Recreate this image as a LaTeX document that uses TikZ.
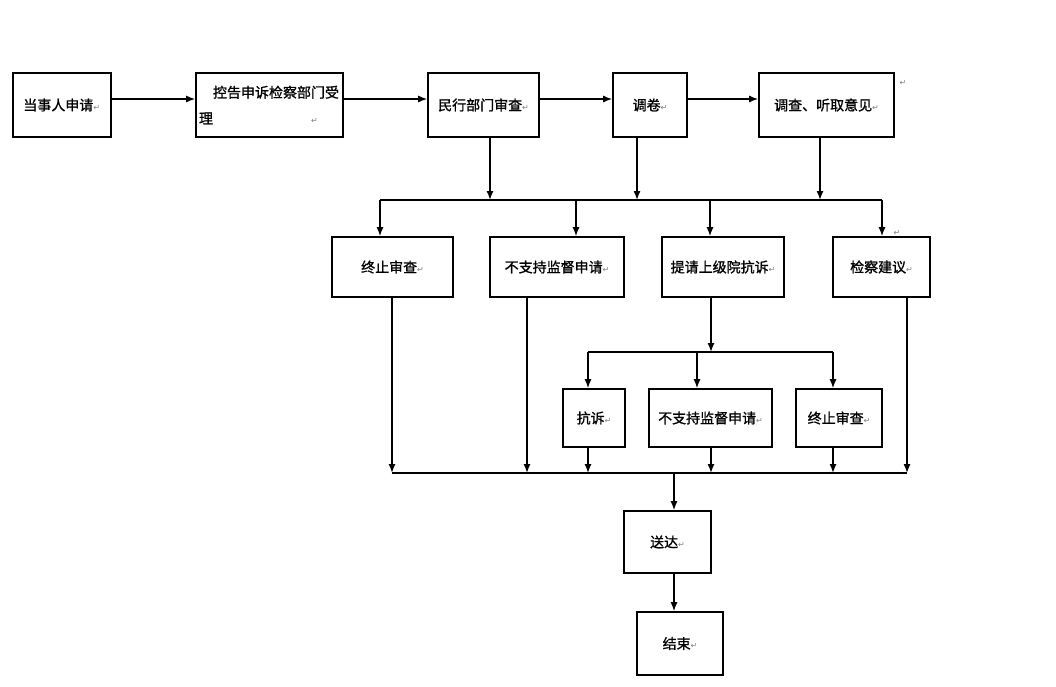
\documentclass[tikz,border=0pt]{standalone}
\usepackage{fontspec}
\setmainfont[FakeBold=1.2]{Noto Sans CJK SC}
\newfontfamily\markfont{DejaVu Sans}
\usepackage{xcolor}
\usepackage{tikz}
\usetikzlibrary{arrows.meta,arrows}
\newcommand{\retmark}{{\markfont\fontsize{8}{8}\selectfont\textcolor{gray}{↵}}}

\begin{document}
\begin{tikzpicture}[x=1pt,y=-1pt,
    box/.style={draw,line width=1.6pt,inner sep=3pt,font=\fontsize{14}{26}\selectfont},
    flow/.style={line width=1.4pt,-{Latex[length=9pt,width=7pt]}},
    bus/.style={line width=1.4pt}]
        \useasboundingbox (0,0) rectangle (1056,686);
        % first row
        \node[box,minimum width=98pt,minimum height=64pt] (apply) at (61.7,105) {当事人申请\retmark};
        \node[box,minimum width=147pt,minimum height=64pt,text width=141pt,align=left] (accept) at (269.5,105) {\hspace*{1em}控告申诉检察部门受\\理\hspace*{7em}\retmark};
        \node[box,minimum width=111pt,minimum height=64pt] (review) at (483.5,105) {民行部门审查\retmark};
        \node[box,minimum width=74pt,minimum height=64pt] (fetch) at (650,105) {调卷\retmark};
        \node[box,minimum width=135pt,minimum height=64pt] (hear) at (826.5,105) {调查、听取意见\retmark};
        \node (markA) at (903,83) {\retmark};
        % second row
        \node[box,minimum width=121pt,minimum height=60pt] (stop) at (392.5,267) {终止审查\retmark};
        \node[box,minimum width=134pt,minimum height=60pt] (reject) at (557,267) {不支持监督申请\retmark};
        \node[box,minimum width=122pt,minimum height=60pt] (protest) at (723,267) {提请上级院抗诉\retmark};
        \node[box,minimum width=97pt,minimum height=60pt] (suggest) at (881.5,267) {检察建议\retmark};
        \node (markB) at (897,233) {\retmark};
        % third row
        \node[box,minimum width=62pt,minimum height=58pt] (appeal) at (594,418) {抗诉\retmark};
        \node[box,minimum width=123pt,minimum height=58pt] (rejectb) at (710.5,418) {不支持监督申请\retmark};
        \node[box,minimum width=86pt,minimum height=58pt] (stopb) at (839,418) {终止审查\retmark};
        % end
        \node[box,minimum width=87pt,minimum height=62pt] (deliver) at (667.5,542) {送达\retmark};
        \node[box,minimum width=86pt,minimum height=63pt] (finish) at (680,643.5) {结束\retmark};
        %
        % Connectors:
        \draw[flow] ([yshift=6pt]apply.east) -- ([yshift=6pt]accept.west);
        \draw[flow] ([yshift=6pt]accept.east) -- ([yshift=6pt]review.west);
        \draw[flow] ([yshift=6pt]review.east) -- ([yshift=6pt]fetch.west);
        \draw[flow] ([yshift=6pt]fetch.east) -- ([yshift=6pt]hear.west);
        \coordinate (busL) at (380,200);
        \coordinate (busR) at (882,200);
        \coordinate (reviewx) at (490,200);
        \coordinate (fetchx) at (637,200);
        \coordinate (hearx) at (820,200);
        \draw[flow] (review.south -| reviewx) -- (reviewx);
        \draw[flow] (fetch.south -| fetchx) -- (fetchx);
        \draw[flow] (hear.south -| hearx) -- (hearx);
        \draw[bus] (busL) -- (busR);
        \coordinate (rejectx) at (576,200);
        \coordinate (protestx) at (710,200);
        \draw[flow] (busL) -- (busL |- stop.north);
        \draw[flow] (rejectx) -- (rejectx |- reject.north);
        \draw[flow] (protestx) -- (protestx |- protest.north);
        \draw[flow] (busR) -- (busR |- suggest.north);
        % sub branch
        \coordinate (subL) at (588,352);
        \coordinate (subM) at (697,352);
        \coordinate (subR) at (833,352);
        \coordinate (protestd) at (711,352);
        \draw[flow] (protest.south -| protestd) -- (protestd);
        \draw[bus] (subL) -- (subR);
        \draw[flow] (subL) -- (subL |- appeal.north);
        \draw[flow] (subM) -- (subM |- rejectb.north);
        \draw[flow] (subR) -- (subR |- stopb.north);
        % collecting line
        \coordinate (endL) at (392,473);
        \coordinate (endR) at (907,473);
        \coordinate (rejectd) at (527,473);
        \draw[flow] (stop.south -| endL) -- (endL);
        \draw[flow] (reject.south -| rejectd) -- (rejectd);
        \draw[flow] (appeal.south -| subL) -- (subL |- endL);
        \draw[flow] (rejectb.south -| protestd) -- (protestd |- endL);
        \draw[flow] (stopb.south -| subR) -- (subR |- endL);
        \draw[flow] (suggest.south -| endR) -- (endR);
        \draw[bus] (endL) -- (endR);
        \coordinate (downx) at (674,473);
        \draw[flow] (downx) -- (downx |- deliver.north);
        \draw[flow] (deliver.south -| downx) -- (downx |- finish.north);
\end{tikzpicture}
\end{document}
